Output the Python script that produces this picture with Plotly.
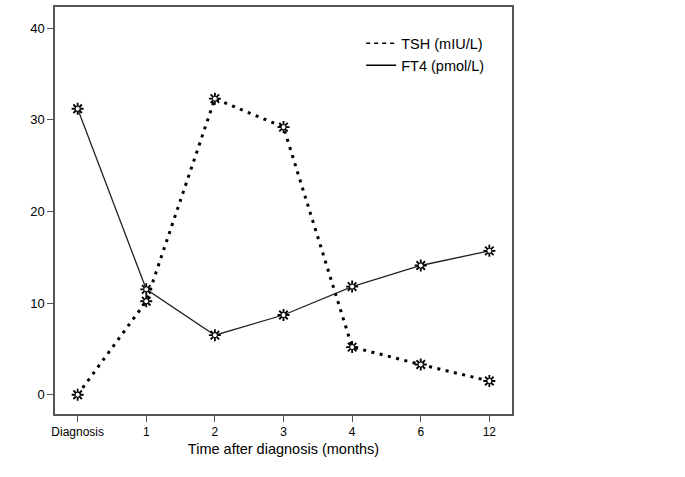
import plotly.graph_objects as go

categories = ["Diagnosis", "1", "2", "3", "4", "6", "12"]
tsh = [0.0, 10.2, 32.3, 29.2, 5.2, 3.3, 1.5]
ft4 = [31.2, 11.5, 6.5, 8.7, 11.8, 14.1, 15.7]
y_ticks = [0, 10, 20, 30, 40]

xs = list(range(len(categories)))

fig = go.Figure()
# lines
fig.add_trace(go.Scatter(
    x=xs, y=tsh, mode="lines", showlegend=False,
    line=dict(color="black", width=3, dash="3px,5.5px"),
))
fig.add_trace(go.Scatter(
    x=xs, y=ft4, mode="lines", showlegend=False,
    line=dict(color="#222", width=1.3),
))
# markers (burst look)
for vals in (tsh, ft4):
    fig.add_trace(go.Scatter(
        x=xs, y=vals, mode="markers", showlegend=False,
        marker=dict(symbol="asterisk-open", size=10, color="black", line=dict(width=1.8, color="black")),
    ))
    fig.add_trace(go.Scatter(
        x=xs, y=vals, mode="markers", showlegend=False,
        marker=dict(symbol="circle", size=5, color="white", line=dict(width=1, color="black")),
    ))
# legend entries
fig.add_trace(go.Scatter(
    x=[None], y=[None], mode="lines", name="TSH (mIU/L)",
    line=dict(color="black", width=1.5, dash="4px,4px"),
))
fig.add_trace(go.Scatter(
    x=[None], y=[None], mode="lines", name="FT4 (pmol/L)",
    line=dict(color="black", width=1.5),
))

fig.update_layout(
    width=685, height=477,
    margin=dict(l=55, r=173, t=5, b=63),
    paper_bgcolor="white", plot_bgcolor="white",
    font=dict(family="Liberation Sans, Arial, sans-serif", color="black", size=12),
    legend=dict(x=0.67, y=0.95, xanchor="left", yanchor="top",
                bgcolor="rgba(0,0,0,0)", font=dict(size=14.5),
                itemwidth=30, tracegroupgap=0),
    xaxis=dict(
        range=[-0.33, 6.33], tickmode="array", tickvals=xs, ticktext=categories,
        showgrid=False, zeroline=False, showline=True, linecolor="#555", linewidth=1.5,
        mirror=True, ticks="outside", ticklen=6, tickcolor="#555",
        tickfont=dict(size=12),
        title=dict(text="Time after diagnosis (months)", font=dict(size=14.5), standoff=6),
    ),
    yaxis=dict(
        range=[-2.1, 42.3], tickmode="array", tickvals=y_ticks,
        showgrid=False, zeroline=False, showline=True, linecolor="#555", linewidth=1.5,
        mirror=True, ticks="outside", ticklen=6, tickcolor="#555",
        tickfont=dict(size=13),
    ),
)

fig.write_html("out.html", config={"displayModeBar": False},
               post_script="document.body.style.margin='0';")
